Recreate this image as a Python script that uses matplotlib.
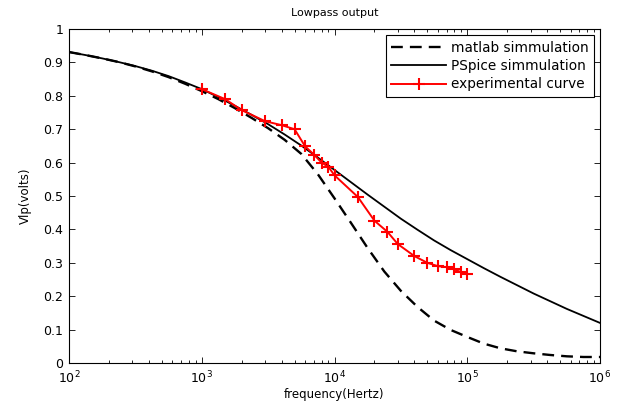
"""Lowpass filter output: matlab vs PSpice simulation vs measured curve."""

import matplotlib
matplotlib.use("Agg")
import matplotlib.pyplot as plt
from matplotlib.ticker import LogLocator, NullFormatter

plt.rcParams["font.family"] = ["DejaVu Sans"]

# frequency grid the simulation curves were read on (1/8 decade)
sim_freq = [100, 133, 178, 237, 316, 422, 562, 750, 1000, 1334, 1778, 2371,
            3162, 4217, 5623, 7499, 10000, 13335, 17783, 23714, 31623, 42170,
            56234, 74989, 100000, 133352, 177828, 237137, 316228, 421697,
            562341, 749894, 1000000]

# matlab simulation (dashed)
matlab_v = [0.931, 0.922, 0.912, 0.901, 0.888, 0.873, 0.856, 0.836, 0.814,
            0.790, 0.763, 0.734, 0.703, 0.668, 0.626, 0.565, 0.493, 0.419,
            0.344, 0.274, 0.216, 0.168, 0.127, 0.099, 0.078, 0.058, 0.044,
            0.035, 0.029, 0.024, 0.020, 0.018, 0.018]

# PSpice simulation (solid)
pspice_v = [0.931, 0.922, 0.912, 0.901, 0.889, 0.875, 0.859, 0.840, 0.820,
            0.796, 0.770, 0.743, 0.715, 0.684, 0.651, 0.615, 0.578, 0.541,
            0.504, 0.468, 0.432, 0.399, 0.367, 0.338, 0.311, 0.284, 0.258,
            0.233, 0.208, 0.185, 0.162, 0.141, 0.120]

# measured points
exp_freq = [1000, 1500, 2000, 3000, 4000, 5000, 6000, 7000, 8000, 9000,
            10000, 15000, 20000, 25000, 30000, 40000, 50000, 60000, 70000,
            80000, 90000, 100000]
exp_v = [0.82, 0.79, 0.757, 0.724, 0.712, 0.70, 0.649, 0.624, 0.60, 0.587,
         0.562, 0.497, 0.426, 0.393, 0.356, 0.32, 0.30, 0.29, 0.287,
         0.28, 0.272, 0.266]

yticks = [0, 0.1, 0.2, 0.3, 0.4, 0.5, 0.6, 0.7, 0.8, 0.9, 1]
ytick_labels = ["0", "0.1", "0.2", "0.3", "0.4", "0.5", "0.6", "0.7",
                "0.8", "0.9", "1"]

fig = plt.figure(figsize=(6.19, 4.08), dpi=100)
ax = fig.add_axes([69 / 619, 1 - 363 / 408, 531 / 619, 334 / 408])

ax.semilogx(sim_freq, matlab_v, color="black", linestyle=(0, (5, 3)),
            linewidth=1.7, label="matlab simmulation")
ax.semilogx(sim_freq, pspice_v, color="black", linestyle="-",
            linewidth=1.3, label="PSpice simmulation")
ax.semilogx(exp_freq, exp_v, color="red", linestyle="-", linewidth=1.4,
            marker="+", markersize=8, markeredgewidth=1.5,
            label="experimental curve")

ax.set_xlim(1e2, 1e6)
ax.set_ylim(0, 1)
ax.set_yticks(yticks)
ax.set_yticklabels(ytick_labels)
ax.xaxis.set_major_locator(LogLocator(base=10, numticks=10))
ax.xaxis.set_minor_locator(LogLocator(base=10, subs=range(2, 10), numticks=50))
ax.xaxis.set_minor_formatter(NullFormatter())

ax.tick_params(which="both", direction="in", top=True, right=True,
               labelsize=9, width=0.6)
ax.tick_params(which="major", length=4)
ax.tick_params(which="minor", length=2.5)
ax.tick_params(axis="x", pad=5)
ax.tick_params(axis="y", pad=4)
for spine in ax.spines.values():
    spine.set_linewidth(0.8)

ax.set_title("Lowpass output", fontsize=8, pad=9)
ax.set_xlabel("frequency(Hertz)", fontsize=8.5, labelpad=1)
ax.set_ylabel("Vlp(volts)", fontsize=8.5, labelpad=8)

leg = ax.legend(loc="upper right", fontsize=9.8, fancybox=False,
                framealpha=1, edgecolor="black", handlelength=4.0,
                handletextpad=0.35, borderaxespad=0.45, labelspacing=0.32,
                borderpad=0.4, numpoints=1)
leg.get_frame().set_linewidth(0.8)

fig.savefig("out.png", dpi=100)
